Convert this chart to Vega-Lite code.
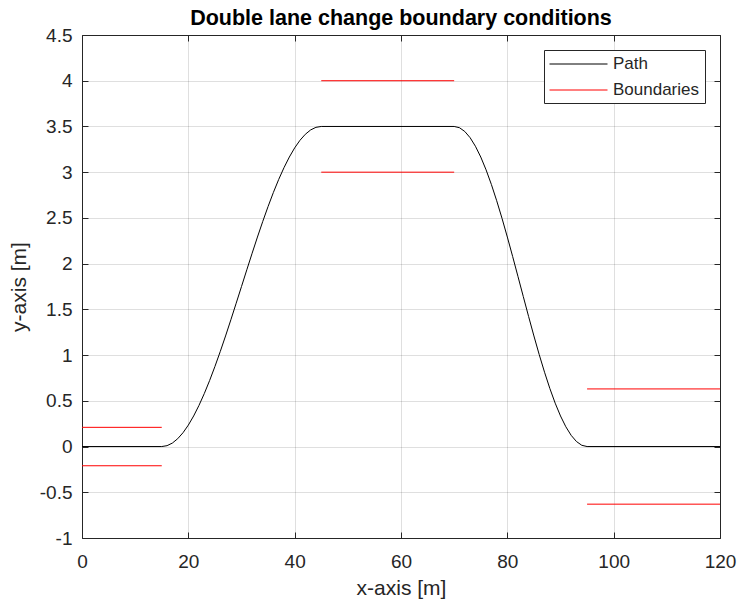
{
  "$schema": "https://vega.github.io/schema/vega-lite/v6.json",
  "autosize": "none",
  "width": 638,
  "height": 503,
  "padding": {"left": 82, "top": 35, "right": 20, "bottom": 65},
  "background": "white",
  "title": {
    "text": "Double lane change boundary conditions",
    "font": "Liberation Sans",
    "fontSize": 21.5,
    "fontWeight": "bold",
    "color": "#000000",
    "anchor": "middle",
    "baseline": "alphabetic",
    "offset": 10,
    "dy": 30
  },
  "config": {
    "font": "Liberation Sans",
    "view": {"stroke": "#262626", "strokeWidth": 1},
    "axis": {
      "labelFont": "Liberation Sans",
      "titleFont": "Liberation Sans",
      "labelColor": "#262626",
      "titleColor": "#262626",
      "labelFontSize": 19,
      "titleFontSize": 21,
      "titleFontWeight": "normal",
      "labelFlush": false,
      "domain": false,
      "tickColor": "#262626",
      "tickSize": -6,
      "gridColor": "#262626",
      "gridOpacity": 0.15,
      "gridWidth": 1
    },
    "legend": {
      "labelFont": "Liberation Sans"
    }
  },
  "data": {
    "values": [
      {"series": "Path", "seg": "p", "x": 0, "y": 0},
      {"series": "Path", "seg": "p", "x": 15, "y": 0},
      {"series": "Path", "seg": "p", "x": 16, "y": 0.0096},
      {"series": "Path", "seg": "p", "x": 17, "y": 0.0382},
      {"series": "Path", "seg": "p", "x": 18, "y": 0.0857},
      {"series": "Path", "seg": "p", "x": 19, "y": 0.1513},
      {"series": "Path", "seg": "p", "x": 20, "y": 0.2345},
      {"series": "Path", "seg": "p", "x": 21, "y": 0.3342},
      {"series": "Path", "seg": "p", "x": 22, "y": 0.4495},
      {"series": "Path", "seg": "p", "x": 23, "y": 0.579},
      {"series": "Path", "seg": "p", "x": 24, "y": 0.7214},
      {"series": "Path", "seg": "p", "x": 25, "y": 0.875},
      {"series": "Path", "seg": "p", "x": 26, "y": 1.0382},
      {"series": "Path", "seg": "p", "x": 27, "y": 1.2092},
      {"series": "Path", "seg": "p", "x": 28, "y": 1.3862},
      {"series": "Path", "seg": "p", "x": 29, "y": 1.5671},
      {"series": "Path", "seg": "p", "x": 30, "y": 1.75},
      {"series": "Path", "seg": "p", "x": 31, "y": 1.9329},
      {"series": "Path", "seg": "p", "x": 32, "y": 2.1138},
      {"series": "Path", "seg": "p", "x": 33, "y": 2.2908},
      {"series": "Path", "seg": "p", "x": 34, "y": 2.4618},
      {"series": "Path", "seg": "p", "x": 35, "y": 2.625},
      {"series": "Path", "seg": "p", "x": 36, "y": 2.7786},
      {"series": "Path", "seg": "p", "x": 37, "y": 2.921},
      {"series": "Path", "seg": "p", "x": 38, "y": 3.0505},
      {"series": "Path", "seg": "p", "x": 39, "y": 3.1658},
      {"series": "Path", "seg": "p", "x": 40, "y": 3.2656},
      {"series": "Path", "seg": "p", "x": 41, "y": 3.3487},
      {"series": "Path", "seg": "p", "x": 42, "y": 3.4144},
      {"series": "Path", "seg": "p", "x": 43, "y": 3.4618},
      {"series": "Path", "seg": "p", "x": 44, "y": 3.4904},
      {"series": "Path", "seg": "p", "x": 45, "y": 3.5},
      {"series": "Path", "seg": "p", "x": 70, "y": 3.5},
      {"series": "Path", "seg": "p", "x": 71, "y": 3.4862},
      {"series": "Path", "seg": "p", "x": 72, "y": 3.445},
      {"series": "Path", "seg": "p", "x": 73, "y": 3.3771},
      {"series": "Path", "seg": "p", "x": 74, "y": 3.2835},
      {"series": "Path", "seg": "p", "x": 75, "y": 3.1658},
      {"series": "Path", "seg": "p", "x": 76, "y": 3.0257},
      {"series": "Path", "seg": "p", "x": 77, "y": 2.8655},
      {"series": "Path", "seg": "p", "x": 78, "y": 2.6877},
      {"series": "Path", "seg": "p", "x": 79, "y": 2.4951},
      {"series": "Path", "seg": "p", "x": 80, "y": 2.2908},
      {"series": "Path", "seg": "p", "x": 81, "y": 2.0779},
      {"series": "Path", "seg": "p", "x": 82, "y": 1.8599},
      {"series": "Path", "seg": "p", "x": 83, "y": 1.6401},
      {"series": "Path", "seg": "p", "x": 84, "y": 1.4221},
      {"series": "Path", "seg": "p", "x": 85, "y": 1.2092},
      {"series": "Path", "seg": "p", "x": 86, "y": 1.0049},
      {"series": "Path", "seg": "p", "x": 87, "y": 0.8123},
      {"series": "Path", "seg": "p", "x": 88, "y": 0.6345},
      {"series": "Path", "seg": "p", "x": 89, "y": 0.4743},
      {"series": "Path", "seg": "p", "x": 90, "y": 0.3342},
      {"series": "Path", "seg": "p", "x": 91, "y": 0.2165},
      {"series": "Path", "seg": "p", "x": 92, "y": 0.1229},
      {"series": "Path", "seg": "p", "x": 93, "y": 0.055},
      {"series": "Path", "seg": "p", "x": 94, "y": 0.0138},
      {"series": "Path", "seg": "p", "x": 95, "y": 0},
      {"series": "Path", "seg": "p", "x": 120, "y": 0},
      {"series": "Boundaries", "seg": "b1", "x": 0, "y": 0.21},
      {"series": "Boundaries", "seg": "b1", "x": 15, "y": 0.21},
      {"series": "Boundaries", "seg": "b2", "x": 0, "y": -0.21},
      {"series": "Boundaries", "seg": "b2", "x": 15, "y": -0.21},
      {"series": "Boundaries", "seg": "b3", "x": 45, "y": 4},
      {"series": "Boundaries", "seg": "b3", "x": 70, "y": 4},
      {"series": "Boundaries", "seg": "b4", "x": 45, "y": 3},
      {"series": "Boundaries", "seg": "b4", "x": 70, "y": 3},
      {"series": "Boundaries", "seg": "b5", "x": 95, "y": 0.63},
      {"series": "Boundaries", "seg": "b5", "x": 120, "y": 0.63},
      {"series": "Boundaries", "seg": "b6", "x": 95, "y": -0.63},
      {"series": "Boundaries", "seg": "b6", "x": 120, "y": -0.63}
    ]
  },
  "layer": [
    {
      "mark": {"type": "line", "strokeWidth": 1, "clip": true},
      "encoding": {
        "x": {
          "field": "x", "type": "quantitative",
          "scale": {"domain": [0, 120], "nice": false},
          "axis": {
            "orient": "bottom",
            "values": [0, 20, 40, 60, 80, 100, 120],
            "labelExpr": "toString(datum.value)",
            "labelPadding": 20,
            "title": "x-axis [m]",
            "titlePadding": 6
          }
        },
        "y": {
          "field": "y", "type": "quantitative",
          "scale": {"domain": [-1, 4.5], "nice": false, "zero": false},
          "axis": {
            "orient": "left",
            "values": [-1, -0.5, 0, 0.5, 1, 1.5, 2, 2.5, 3, 3.5, 4, 4.5],
            "labelExpr": "toString(datum.value)",
            "labelPadding": 16,
            "title": "y-axis [m]",
            "titlePadding": 10
          }
        },
        "color": {
          "field": "series", "type": "nominal",
          "scale": {"domain": ["Path", "Boundaries"], "range": ["#000000", "#ff0000"]},
          "legend": {
            "title": null,
            "orient": "top-right",
            "offset": 15,
            "symbolType": "M-1,0H5.824",
            "symbolSize": 289,
            "symbolStrokeWidth": 1,
            "labelFontSize": 17,
            "labelColor": "#262626",
            "labelOffset": 46,
            "rowPadding": 9,
            "padding": 5,
            "strokeColor": "#262626",
            "fillColor": "#ffffff"
          }
        },
        "detail": {"field": "seg"}
      }
    },
    {
      "mark": {"type": "line", "opacity": 0},
      "encoding": {
        "x": {
          "field": "x", "type": "quantitative",
          "scale": {"domain": [0, 120], "nice": false},
          "axis": {"orient": "top", "values": [0, 20, 40, 60, 80, 100, 120], "labels": false, "grid": false, "title": null}
        },
        "y": {
          "field": "y", "type": "quantitative",
          "scale": {"domain": [-1, 4.5], "nice": false, "zero": false},
          "axis": {"orient": "right", "values": [-1, -0.5, 0, 0.5, 1, 1.5, 2, 2.5, 3, 3.5, 4, 4.5], "labels": false, "grid": false, "title": null}
        },
        "detail": {"field": "seg"}
      }
    }
  ],
  "resolve": {"axis": {"x": "independent", "y": "independent"}}
}
